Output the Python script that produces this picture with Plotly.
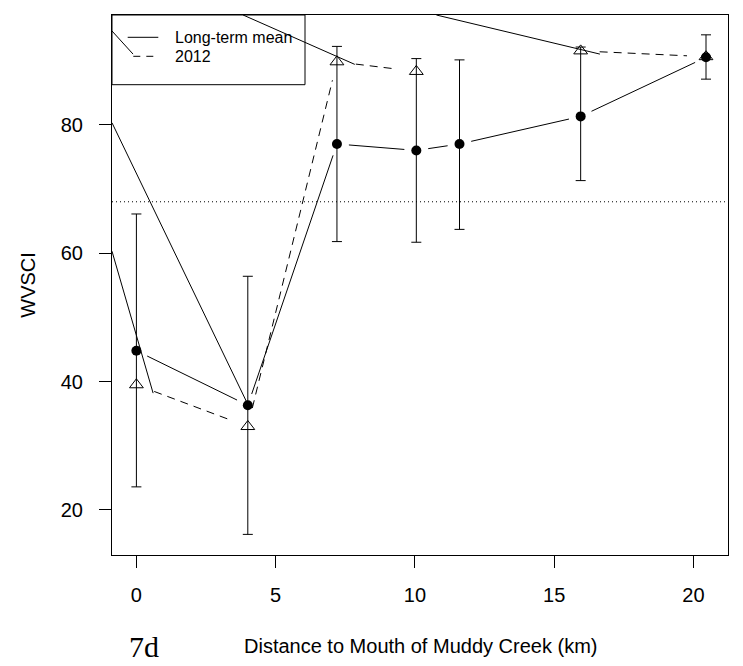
import math
import plotly.graph_objects as go

# ---------------- data ----------------
distance_km = [0.0, 4.0, 7.2, 10.05, 11.6, 15.95, 20.45]
longterm_mean = [44.8, 36.3, 77.0, 76.0, 77.0, 81.3, 90.5]
longterm_upper = [66.1, 56.4, 92.2, 90.3, 90.1, 92.1, 94.0]
longterm_lower = [23.6, 16.2, 61.8, 61.7, 63.7, 71.3, 87.1]
wvsci_2012 = [39.5, 33.0, 89.8, 88.3, None, 91.5, 90.6]
threshold = 68.0

# stray solid segments visible in the reference
stray_x0 = [-0.876, -0.876, 3.83, 10.77, -0.876]
stray_y0 = [60.3, 80.3, 97.09, 97.09, 94.6]
stray_x1 = [0.60, 3.95, 7.84, 16.64, -0.12]
stray_y1 = [38.2, 36.9, 89.4, 91.0, 91.0]

x_ticks = [0, 5, 10, 15, 20]
y_ticks = [20, 40, 60, 80]
legend_labels = ["Long-term mean", "2012"]

# ---------------- layout constants ----------------
W, H = 743, 666
ML, MR, MT, MB = 112, 15, 15, 111
PW, PH = W - ML - MR, H - MT - MB
XR = [-0.876, 21.24]
YR = [12.99, 97.09]
sx = PW / (XR[1] - XR[0])
sy = PH / (YR[1] - YR[0])
FONT = "Liberation Sans, Arial, sans-serif"


def gapped(xs, ys, gap):
    """R type='b' style: segments between consecutive points with a gap at each end."""
    ox, oy = [], []
    for i in range(len(xs) - 1):
        if ys[i] is None or ys[i + 1] is None:
            continue
        ddx, ddy = xs[i + 1] - xs[i], ys[i + 1] - ys[i]
        d = math.hypot(ddx * sx, ddy * sy)
        if d <= 2 * gap:
            continue
        f = gap / d
        ox += [xs[i] + ddx * f, xs[i + 1] - ddx * f, None]
        oy += [ys[i] + ddy * f, ys[i + 1] - ddy * f, None]
    return ox, oy


def px2paper_x(px):
    return (px - ML) / PW


def px2paper_y(py):
    return 1 - (py - MT) / PH


fig = go.Figure()

# stray segments
stx, sty = [], []
for a, b, c, d in zip(stray_x0, stray_y0, stray_x1, stray_y1):
    stx += [a, c, None]
    sty += [b, d, None]
fig.add_trace(go.Scatter(x=stx, y=sty, mode="lines",
                         line=dict(color="black", width=1), hoverinfo="skip"))

# 2012 dashed connecting segments
dx2, dy2 = gapped(distance_km, wvsci_2012, 19)
fig.add_trace(go.Scatter(x=dx2, y=dy2, mode="lines",
                         line=dict(color="black", width=1, dash="8px,6px"),
                         hoverinfo="skip"))

# long-term mean solid connecting segments
mx, my = gapped(distance_km, longterm_mean, 12)
fig.add_trace(go.Scatter(x=mx, y=my, mode="lines",
                         line=dict(color="black", width=1), hoverinfo="skip"))

# 2012 triangles
fig.add_trace(go.Scatter(x=distance_km, y=wvsci_2012, mode="markers",
                         marker=dict(symbol="triangle-up-open", size=12,
                                     color="black", line=dict(width=1, color="black")),
                         name=legend_labels[1]))

# long-term mean with error bars
fig.add_trace(go.Scatter(
    x=distance_km, y=longterm_mean, mode="markers",
    marker=dict(symbol="circle", size=10, color="black"),
    error_y=dict(type="data", symmetric=False,
                 array=[u - m for u, m in zip(longterm_upper, longterm_mean)],
                 arrayminus=[m - l for m, l in zip(longterm_mean, longterm_lower)],
                 color="black", thickness=1, width=5),
    name=legend_labels[0]))

shapes = [
    # threshold dotted line
    dict(type="line", xref="paper", yref="y", x0=0, x1=1, y0=threshold, y1=threshold,
         line=dict(color="black", width=1, dash="1px,3px")),
    # legend box
    dict(type="rect", xref="paper", yref="paper",
         x0=0, x1=px2paper_x(305), y0=px2paper_y(84.7), y1=1,
         line=dict(color="black", width=1)),
    # legend samples
    dict(type="line", xref="paper", yref="paper",
         x0=px2paper_x(127.7), x1=px2paper_x(158.3),
         y0=px2paper_y(37.3), y1=px2paper_y(37.3),
         line=dict(color="black", width=1)),
    dict(type="line", xref="paper", yref="paper",
         x0=px2paper_x(133.3), x1=px2paper_x(158.3),
         y0=px2paper_y(56.3), y1=px2paper_y(56.3),
         line=dict(color="black", width=1, dash="7px,6px")),
]

annotations = [
    dict(text=legend_labels[0], xref="paper", yref="paper",
         x=px2paper_x(173.3), y=px2paper_y(37.3), xanchor="left", yanchor="middle",
         showarrow=False, font=dict(family=FONT, size=16, color="black")),
    dict(text=legend_labels[1], xref="paper", yref="paper",
         x=px2paper_x(173.3), y=px2paper_y(56.3), xanchor="left", yanchor="middle",
         showarrow=False, font=dict(family=FONT, size=16, color="black")),
    dict(text="WVSCI", xref="paper", yref="paper", x=0, y=0.5, xshift=27.7 - ML,
         xanchor="center", yanchor="middle", textangle=-90, showarrow=False,
         font=dict(family=FONT, size=20, color="black")),
    dict(text="Distance to Mouth of Muddy Creek (km)", xref="paper", yref="paper",
         x=0.5, y=0, yshift=-(645.8 - (H - MB)), xanchor="center", yanchor="middle",
         showarrow=False, font=dict(family=FONT, size=20, color="black")),
    dict(text="7d", xref="paper", yref="paper", x=px2paper_x(144.2), y=0,
         yshift=-(646 - (H - MB)), xanchor="center", yanchor="middle",
         showarrow=False,
         font=dict(family="Liberation Serif, Times New Roman, serif", size=30, color="black")),
]

fig.update_layout(
    width=W, height=H,
    margin=dict(l=ML, r=MR, t=MT, b=MB, pad=0),
    paper_bgcolor="white", plot_bgcolor="white",
    showlegend=False,
    shapes=shapes, annotations=annotations,
    font=dict(family=FONT, size=20, color="black"),
    xaxis=dict(range=XR, tickmode="array", tickvals=x_ticks,
               ticktext=[str(v) for v in x_ticks],
               showgrid=False, zeroline=False, showline=True, mirror=True,
               linecolor="black", linewidth=1, ticks="outside", ticklen=12,
               tickcolor="black", tickwidth=1, ticklabelstandoff=10,
               tickfont=dict(family=FONT, size=20, color="black")),
    yaxis=dict(range=YR, tickmode="array", tickvals=y_ticks,
               ticktext=[str(v) for v in y_ticks],
               showgrid=False, zeroline=False, showline=True, mirror=True,
               linecolor="black", linewidth=1, ticks="outside", ticklen=12,
               tickcolor="black", tickwidth=1, ticklabelstandoff=12,
               tickfont=dict(family=FONT, size=20, color="black")),
)

fig.write_html("out.html")
